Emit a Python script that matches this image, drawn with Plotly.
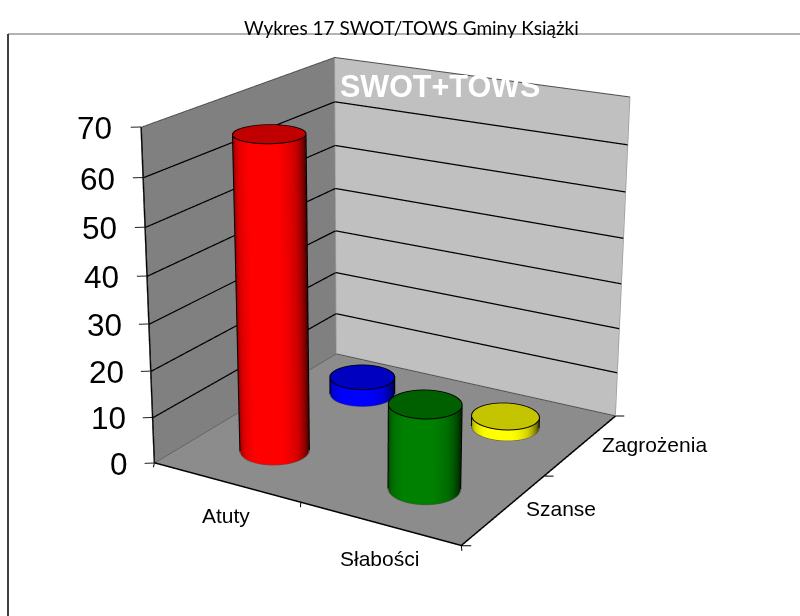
import numpy as np
import plotly.graph_objects as go

# ---- data ----
title_text = "Wykres 17 SWOT/TOWS Gminy Książki"
overlay_text = "SWOT+TOWS"
x_labels = ["Atuty", "Słabości"]
y_labels = ["Szanse", "Zagrożenia"]
front_values = [67, 18]
back_values = [4, 2.5]
z_ticks = [0, 10, 20, 30, 40, 50, 60, 70]

front_colors = ["#ff0000", "#008000"]
back_colors = ["#0000ff", "#ffff00"]
front_caps = ["#c00000", "#006000"]
back_caps = ["#0000c0", "#c4c400"]

# ---- page / camera set-up ----
FW, FH = 1200, 1584          # the scene canvas is larger than the window: a flatter perspective
OX, OY = 233, 528            # window offset inside the canvas
def pxx(X): return (X + OX) / FW
def pyy(Y): return 1 - (Y + OY) / FH

eye = np.array([2.5983, -4.4857, 1.8224])
center = np.array([-0.0700, -0.0245, 0.0434])
aspect = np.array([1.0, 0.9922, 0.9963])
up = [0.0057, 0.0034, 1.0]
XR, YR = [-0.25, 2.25], [-0.25, 2.25]
PAD = 1.25
ZT = z_ticks[-1]
R = 0.2
NOL = dict(ambient=1, diffuse=0, specular=0, fresnel=0, roughness=1)

fig = go.Figure()

def flat(x, y, z, color):
    n = np.zeros_like(np.array(z, float))
    fig.add_trace(go.Surface(x=x, y=y, z=z, surfacecolor=n, cmin=0, cmax=1,
                             colorscale=[[0, color], [1, color]], showscale=False,
                             lighting=NOL, hoverinfo="skip"))

def line(x, y, z, color="black", width=2):
    fig.add_trace(go.Scatter3d(x=x, y=y, z=z, mode="lines", hoverinfo="skip",
                               line=dict(color=color, width=width)))

# walls and floor
flat([[0, 2], [0, 2]], [[0, 0], [2, 2]], [[0, 0], [0, 0]], "#8c8c8c")
flat([[0, 0], [0, 0]], [[0, 2], [0, 2]], [[0, 0], [ZT, ZT]], "#808080")
flat([[0, 2], [0, 2]], [[2, 2], [2, 2]], [[0, 0], [ZT, ZT]], "#c0c0c0")

EPS = 0.004
for v in z_ticks[1:-1]:
    line([EPS, EPS, 2], [0, 2 - EPS, 2 - EPS], [v, v, v], "black", 2.5)
line([EPS, EPS, 2], [0, 2 - EPS, 2 - EPS], [ZT, ZT, ZT], "#505050", 2)
line([2, 2], [2 - EPS, 2 - EPS], [0, ZT], "#9a9a9a", 1.5)
line([EPS, EPS], [2 - EPS, 2 - EPS], [0, ZT], "#a0a0a0", 1.5)
line([EPS, 2], [2 - EPS, 2 - EPS], [0.08, 0.08], "#505050", 2)
line([EPS, EPS], [0, 2 - EPS], [0.08, 0.08], "#606060", 1.5)

# axes lines and tick stubs
line([0, 0], [0, 0], [0, ZT], "black", 3)
line([0, 2, 2], [0, 0, 2], [0.05, 0.05, 0.05], "black", 3)
for v in z_ticks:
    line([-0.045, 0], [-0.033, 0], [v, v], "#202020", 2)
for t in [0, 1, 2]:
    line([t, t + 0.03], [0, -0.05], [0, 0], "black", 2)
for t in [0, 1, 2]:
    line([2, 2.045], [t, t + 0.027], [0, 0], "black", 2)

def world(cx, cy):
    return np.array([(cx - 1) / 2 * aspect[0], (cy - 1) / 2 * aspect[1]])

def bar(cx, cy, h, color, cap):
    th = np.linspace(0, 2 * np.pi, 145)
    w = world(cx, cy)
    tv = np.arctan2(eye[1] - w[1], eye[0] - w[0])
    # wall of the cylinder, lit slightly from the left
    X = np.array([cx + R * np.cos(th)] * 2)
    Y = np.array([cy + R * np.sin(th)] * 2)
    Z = np.array([np.zeros_like(th), np.full_like(th, h)])
    S = np.clip(np.cos(th - tv + 0.2), 0, 1)
    S = np.array([S, S])
    r, g, b = int(color[1:3], 16), int(color[3:5], 16), int(color[5:7], 16)
    shade = lambda k: f"rgb({r*k:.0f},{g*k:.0f},{b*k:.0f})"
    fig.add_trace(go.Surface(x=X, y=Y, z=Z, surfacecolor=S, cmin=0, cmax=1, showscale=False,
                             colorscale=[[0, shade(0.3)], [0.35, shade(0.6)], [0.6, shade(0.82)],
                                         [0.92, color], [1, color]],
                             lighting=NOL, hoverinfo="skip"))
    # lid
    rr = np.array([0, R])
    CX = cx + np.outer(rr, np.cos(th))
    CY = cy + np.outer(rr, np.sin(th))
    flat(CX, CY, np.full_like(CX, h), cap)
    # outlines
    o = R + 0.003
    line(cx + o * np.cos(th), cy + o * np.sin(th), np.full_like(th, h + 0.02), "black", 2)
    for sgn in (-1, 1):
        a = tv + sgn * np.pi / 2
        line([cx + o * np.cos(a)] * 2, [cy + o * np.sin(a)] * 2, [0, h], "black", 2)
    arc = np.linspace(tv - np.pi / 2, tv + np.pi / 2, 61)
    line(cx + o * np.cos(arc), cy + o * np.sin(arc), np.full_like(arc, 0.02), "#505050", 1.5)

for i, v in enumerate(back_values):
    bar(0.5 + i, 1.5, v, back_colors[i], back_caps[i])
for i, v in enumerate(front_values):
    bar(0.5 + i, 0.5, v, front_colors[i], front_caps[i])

# labels anchored to the data
scene_ann = []
for v in z_ticks:
    scene_ann.append(dict(x=0, y=0, z=v, text=str(v), showarrow=False, xanchor="right",
                          xshift=-27 + 3 * (ZT - v) / ZT, yshift=-1,
                          font=dict(family="Liberation Sans", size=31.5, color="black")))
lab = dict(family="Liberation Sans", size=21, color="black")
for i, (t, ys) in enumerate(zip(x_labels, [-33, -35])):
    scene_ann.append(dict(x=0.5 + i, y=0, z=0, text=t, showarrow=False, xshift=0, yshift=ys, font=lab))
for i, (t, sh, ys) in enumerate(zip(y_labels, [57, 73], [1, 0])):
    scene_ann.append(dict(x=2, y=0.5 + i, z=0, text=t, showarrow=False, xshift=sh, yshift=ys, font=lab))

fig.update_layout(
    width=FW, height=FH, margin=dict(l=0, r=0, t=0, b=0), showlegend=False,
    paper_bgcolor="white",
    annotations=[
        dict(text=title_text, x=pxx(411), y=pyy(27), xref="paper", yref="paper", showarrow=False,
             font=dict(family="Lato", size=19, color="black")),
        dict(text=f"<b>{overlay_text}</b>", x=pxx(439.5), y=pyy(86), xref="paper", yref="paper", showarrow=False,
             font=dict(family="Liberation Sans", size=30.5, color="white")),
    ],
    shapes=[
        dict(type="line", xref="paper", yref="paper", x0=pxx(8), x1=pxx(800), y0=pyy(34), y1=pyy(34),
             line=dict(color="#666666", width=1)),
        dict(type="line", xref="paper", yref="paper", x0=pxx(8), x1=pxx(8), y0=pyy(34), y1=pyy(616),
             line=dict(color="black", width=1.5)),
    ],
    scene=dict(
        domain=dict(x=[0, 1], y=[0, 1]), aspectmode="manual",
        aspectratio=dict(x=aspect[0] * PAD, y=aspect[1] * PAD, z=aspect[2]),
        camera=dict(eye=dict(x=eye[0], y=eye[1], z=eye[2]),
                    center=dict(x=center[0], y=center[1], z=center[2]),
                    up=dict(x=up[0], y=up[1], z=up[2])),
        xaxis=dict(visible=False, range=XR), yaxis=dict(visible=False, range=YR),
        zaxis=dict(visible=False, range=[0, ZT]),
        annotations=scene_ann),
)
fig.write_html("out.html", config={"displayModeBar": False},
               post_script=f"document.documentElement.style.overflow='hidden';"
                           f"document.body.style.overflow='hidden';"
                           f"document.body.style.margin='-{OY}px 0 0 -{OX}px';")
